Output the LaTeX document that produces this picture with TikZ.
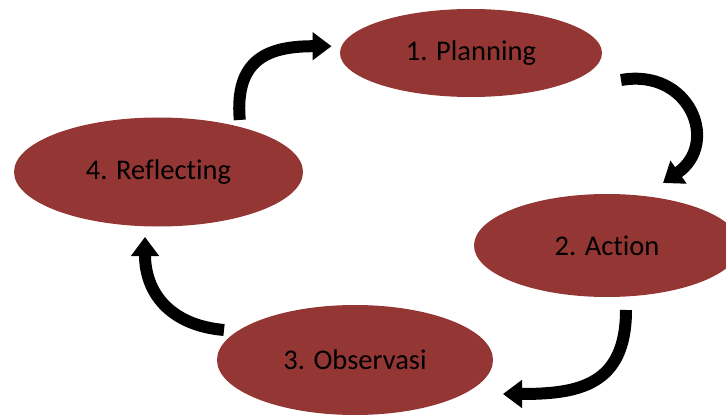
\documentclass[tikz,border=0pt]{standalone}
\usepackage{fontspec}
\setmainfont{Carlito}[Ligatures=NoCommon]
\usetikzlibrary{shapes.geometric,arrows.meta}
\definecolor{siklus}{HTML}{943634}

\begin{document}
\begin{tikzpicture}[x=1pt,y=1pt,
	tahap/.style={shape=ellipse,fill=siklus,draw=none,inner sep=0pt,outer sep=0pt,
		font=\fontsize{28.5}{34}\selectfont,text=black},
	putar/.style={line width=12pt,-{Triangle[width=27pt,length=19pt]}}]

		\useasboundingbox (0,0) rectangle (726,-417);

		\node[tahap,minimum width=262pt,minimum height=88pt]  (plan) at (471,-53)    {1. Planning};
		\node[tahap,minimum width=266pt,minimum height=103pt] (act)  at (607,-245.5) {2. Action};
		\node[tahap,minimum width=276pt,minimum height=110pt] (obs)  at (355,-360)   {3. Observasi};
		\node[tahap,minimum width=289pt,minimum height=109pt] (ref)  at (158.5,-172) {4. Reflecting};

		\draw[putar] ([yshift=7pt]ref.29) to[out=95,in=180,looseness=1.35] ([xshift=-10pt]plan.177);
		\draw[putar] ([shift={(19pt,-27pt)}]plan.east) to[out=10,in=35,looseness=1.6] ([shift={(56pt,11pt)}]act.north);
		\draw[putar] ([shift={(19pt,-13pt)}]act.south) to[out=-90,in=0,looseness=1.3] ([shift={(10pt,-34pt)}]obs.east);
		\draw[putar] ([shift={(7pt,30pt)}]obs.west) to[out=175,in=-90,looseness=1.15] ([shift={(-13.5pt,-10.5pt)}]ref.south);

\end{tikzpicture}
\end{document}
